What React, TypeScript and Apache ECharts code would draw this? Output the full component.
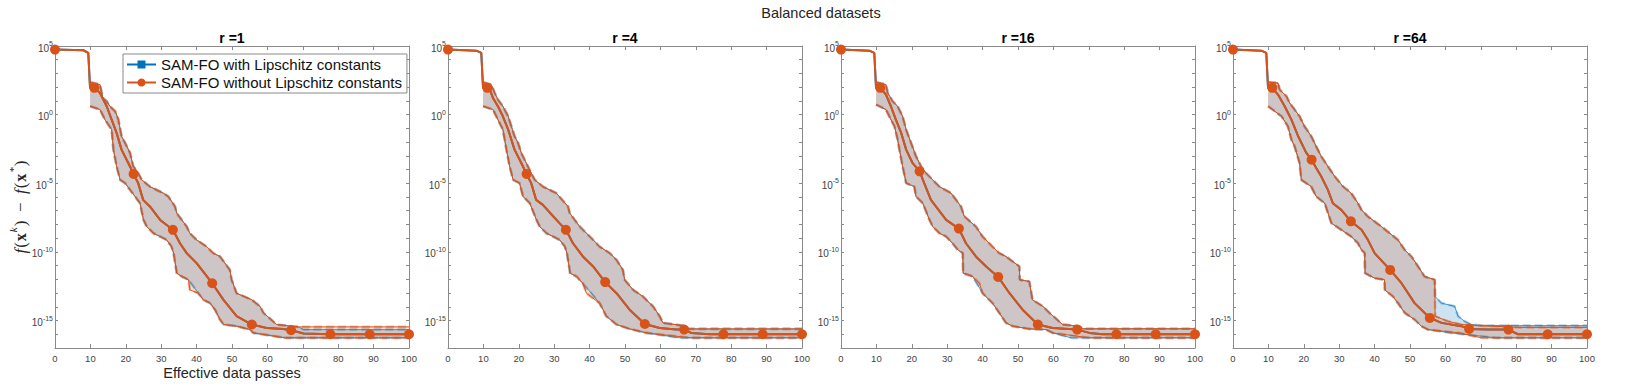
import React, { useEffect, useRef } from "react";
import * as echarts from "echarts";

type Pt = [number, number];

// ---------------- data ----------------
// x = effective data passes, y = log10( f(x^k) - f(x*) )
const mainTitle = "Balanced datasets";
const panelTitles = ["r =1", "r =4", "r =16", "r =64"];
const seriesNames = ["SAM-FO with Lipschitz constants", "SAM-FO without Lipschitz constants"];
const markerPasses = [0, 11.1, 22.2, 33.3, 44.4, 55.6, 66.7, 77.8, 88.9, 100];
const yLabelExponents = [5, 0, -5, -10, -15];
const xLabel = "Effective data passes";

// ---- r = 1 ----
const r1OrangeMedian: Pt[] = [[0, 4.74], [8, 4.69], [9.4, 4.5], [9.9, 1.95], [11.1, 1.95], [12.7, 1.58], [14.6, 0.61], [16, -0.36], [17.4, -1.33], [18.8, -2.55], [20.7, -3.52], [22.2, -4.32], [23.5, -4.99], [24.9, -6.21], [26.8, -6.69], [29.7, -7.67], [33.3, -8.39], [35.3, -9.37], [37.2, -10.09], [40, -10.82], [44.4, -12.28], [47.6, -13.49], [51.3, -14.68], [55.6, -15.29], [59.8, -15.54], [64.5, -15.61], [66.7, -15.71], [70.2, -15.95], [77.8, -16.0], [88.9, -16.0], [100, -16.0]];
const r1OrangeUpper: Pt[] = [[9.9, 2.36], [12.7, 2.19], [13.5, 1.22], [14.6, 0.97], [15.5, 0.61], [17, 0.25], [17.9, -0.36], [18.8, -1.57], [19.8, -2.06], [21.2, -2.79], [22.1, -3.76], [23.5, -4.25], [24.5, -4.75], [26.8, -5.24], [30.6, -5.72], [32, -5.96], [33.9, -6.69], [34.4, -7.18], [37.2, -8.15], [38.1, -8.64], [40, -9.12], [42.8, -9.61], [44.7, -10.09], [46.6, -10.33], [49.4, -11.31], [49.9, -12.03], [51.3, -13.01], [55.6, -13.49], [57.9, -13.96], [58.9, -14.44], [62.6, -15.29], [68.7, -15.46], [100, -15.46]];
const r1OrangeLower: Pt[] = [[9.9, 0.61], [12.7, 0.37], [14.1, -0.36], [16, -1.09], [16.5, -2.55], [17.4, -3.76], [18.4, -4.75], [19.8, -4.99], [21.2, -5.48], [22.6, -5.96], [24, -6.45], [25, -7.67], [25.9, -8.15], [27.8, -8.64], [29.7, -8.88], [31.5, -9.12], [32.9, -9.61], [33.5, -10.09], [34.4, -11.55], [35.8, -11.79], [37.7, -12.03], [38.1, -12.77], [40.5, -13.01], [41.9, -13.49], [43.8, -13.73], [45.2, -14.21], [46.6, -14.93], [47.6, -15.29], [51.3, -15.41], [55.1, -15.66], [56, -15.9], [65, -16.26], [100, -16.26]];
const r1BlueMedian: Pt[] = r1OrangeMedian;
const r1BlueUpper: Pt[] = [[9.9, 2.36], [12.7, 2.19], [13.5, 1.22], [14.6, 0.97], [15.5, 0.61], [17, 0.25], [17.9, -0.36], [18.8, -1.57], [19.8, -2.06], [21.2, -2.79], [22.1, -3.76], [23.5, -4.25], [24.5, -4.75], [26.8, -5.24], [30.6, -5.72], [32, -5.96], [33.9, -6.69], [34.4, -7.18], [37.2, -8.15], [38.1, -8.64], [40, -9.12], [42.8, -9.61], [44.7, -10.09], [46.6, -10.33], [49.4, -11.31], [49.9, -12.03], [51.3, -13.01], [55.6, -13.49], [57.9, -13.96], [58.9, -14.44], [62.6, -15.29], [68.7, -15.46], [70.2, -15.66], [100, -15.66]];
const r1BlueLower: Pt[] = [[9.9, 0.61], [12.7, 0.37], [14.1, -0.36], [16, -1.09], [16.5, -2.55], [17.4, -3.76], [18.4, -4.75], [19.8, -4.99], [21.2, -5.48], [22.6, -5.96], [24, -6.45], [25, -7.67], [25.9, -8.15], [27.8, -8.64], [29.7, -8.88], [31.5, -9.12], [32.9, -9.61], [33.5, -10.09], [34.4, -11.55], [35.8, -11.79], [37.7, -12.03], [40.5, -13.01], [41.9, -13.49], [43.8, -13.73], [45.2, -14.21], [46.6, -14.93], [47.6, -15.29], [51.3, -15.41], [55.1, -15.66], [56, -15.9], [65, -16.26], [100, -16.26]];

// ---- r = 4 ----
const r4OrangeMedian: Pt[] = [[0, 4.74], [8, 4.66], [9.4, 4.5], [9.9, 1.95], [11.1, 1.95], [11.8, 1.83], [12.7, 1.22], [14.1, 0.61], [15.5, -0.12], [17, -1.09], [17.9, -1.82], [18.8, -2.55], [20.7, -3.52], [22.2, -4.32], [23.5, -4.99], [24.9, -6.21], [26.8, -6.57], [29.7, -7.4], [31.5, -7.9], [33.3, -8.39], [35.3, -9.37], [38.1, -10.33], [41, -11.06], [44.4, -12.2], [47.6, -13.01], [51.3, -14.21], [55.6, -15.25], [59.8, -15.54], [64.5, -15.66], [66.7, -15.66], [68.7, -15.9], [73.9, -16.0], [77.8, -16.0], [88.9, -16.0], [100, -16.0]];
const r4OrangeUpper: Pt[] = [[9.9, 2.36], [12.2, 2.19], [13.2, 1.58], [14.1, 1.1], [15.5, 0.61], [17, -0.12], [17.9, -0.85], [18.8, -1.57], [19.8, -2.06], [20.7, -2.79], [22.1, -3.52], [23.5, -4.25], [24.5, -4.75], [26.8, -5.24], [30.6, -5.72], [33.9, -6.69], [34.4, -7.18], [37.2, -8.15], [39.1, -8.64], [41, -9.12], [42.8, -9.61], [45.7, -10.09], [47.6, -10.58], [49.4, -11.31], [49.9, -12.03], [52.3, -12.77], [55.1, -13.25], [56, -13.49], [57.9, -13.96], [59.8, -14.68], [60.7, -15.17], [66.4, -15.37], [67.3, -15.61], [100, -15.61]];
const r4OrangeLower: Pt[] = [[9.9, 0.61], [12.7, 0.37], [14.1, -0.36], [15.5, -1.09], [16, -1.82], [16.5, -2.55], [17.4, -3.76], [18.4, -4.75], [20.2, -4.99], [21.2, -5.96], [23.1, -6.45], [25, -7.67], [25.9, -8.15], [27.8, -8.64], [29.7, -8.88], [31.5, -9.12], [33, -9.61], [33.6, -10.09], [34.5, -11.55], [36.3, -11.79], [38.1, -12.28], [39.1, -13.01], [42.8, -13.73], [43.8, -14.21], [44.7, -14.68], [47.6, -15.29], [51.3, -15.61], [56, -15.9], [68.7, -16.26], [100, -16.26]];
const r4BlueMedian: Pt[] = r4OrangeMedian;
const r4BlueUpper: Pt[] = r4OrangeUpper;
const r4BlueLower: Pt[] = [[9.9, 0.61], [12.7, 0.37], [14.1, -0.36], [15.5, -1.09], [16, -1.82], [16.5, -2.55], [17.4, -3.76], [18.4, -4.75], [20.2, -4.99], [21.2, -5.96], [23.1, -6.45], [25, -7.67], [25.9, -8.15], [27.8, -8.64], [29.7, -8.88], [31.5, -9.12], [33, -9.61], [33.6, -10.09], [34.5, -11.55], [36.3, -11.79], [40.5, -13.01], [42.8, -13.73], [43.8, -14.21], [44.7, -14.68], [47.6, -15.29], [51.3, -15.61], [56, -15.9], [65.4, -16.26], [100, -16.26]];

// ---- r = 16 ----
const r16OrangeMedian: Pt[] = [[0, 4.74], [8, 4.66], [9.4, 4.5], [9.9, 1.95], [11.1, 1.95], [12.7, 1.46], [14.1, 0.61], [15.5, -0.36], [17, -1.33], [18.4, -2.55], [20.2, -3.52], [22.2, -4.13], [23.5, -4.99], [25.4, -6.21], [26.8, -6.69], [29.7, -7.67], [33.3, -8.3], [35.3, -9.37], [38.1, -10.33], [41, -11.06], [44.4, -11.82], [47.6, -13.01], [51.3, -14.21], [55.6, -15.29], [59.8, -15.54], [66.7, -15.66], [70.2, -15.9], [73.9, -16.0], [77.8, -16.0], [88.9, -16.0], [100, -16.0]];
const r16OrangeUpper: Pt[] = [[9.9, 2.36], [12.7, 2.19], [13.2, 1.58], [14.6, 0.97], [16, 0.61], [17.4, -0.12], [18.4, -1.09], [19.8, -2.06], [21.2, -3.03], [22.6, -3.76], [24, -4.25], [25.9, -4.75], [27.8, -5.24], [31.1, -5.72], [33.9, -6.69], [34.8, -7.4], [38.1, -8.15], [40, -8.88], [42.8, -9.61], [44.7, -10.09], [46.6, -10.33], [50.4, -11.06], [50.5, -12.03], [53.2, -12.15], [54.1, -13.49], [57, -13.96], [58.9, -14.44], [62.6, -15.29], [67.3, -15.41], [68.3, -15.6], [100, -15.6]];
const r16OrangeLower: Pt[] = [[9.9, 0.73], [12.7, 0.37], [14.1, -0.36], [15.1, -0.85], [16, -1.82], [16.5, -2.55], [17.4, -3.76], [18.4, -4.99], [20.7, -5.24], [21.2, -5.96], [23.1, -6.45], [25, -7.67], [25.9, -8.15], [27.8, -8.64], [29.7, -8.88], [31.5, -9.37], [33, -9.85], [34.4, -10.09], [34.5, -11.55], [37.2, -11.79], [39.1, -12.28], [40, -13.01], [42.8, -13.73], [44.7, -14.44], [46.6, -15.17], [48.5, -15.41], [53.2, -15.61], [57.9, -15.66], [59.8, -15.9], [70.2, -16.26], [100, -16.26]];
const r16BlueMedian: Pt[] = r16OrangeMedian;
const r16BlueUpper: Pt[] = r16OrangeUpper;
const r16BlueLower: Pt[] = [[9.9, 0.73], [12.7, 0.37], [14.1, -0.36], [15.1, -0.85], [16, -1.82], [16.5, -2.55], [17.4, -3.76], [18.4, -4.99], [20.7, -5.24], [21.2, -5.96], [23.1, -6.45], [25, -7.67], [25.9, -8.15], [27.8, -8.64], [29.7, -8.88], [31.5, -9.37], [33, -9.85], [34.4, -10.09], [34.5, -11.55], [37.2, -11.79], [40, -13.01], [42.8, -13.73], [44.7, -14.44], [46.6, -15.17], [48.5, -15.41], [53.2, -15.61], [57.9, -15.66], [59.8, -15.9], [65, -16.26], [100, -16.26]];

// ---- r = 64 ----
const r64OrangeMedian: Pt[] = [[0, 4.74], [8, 4.66], [9.4, 4.5], [9.9, 1.95], [11.1, 1.95], [12.7, 1.46], [14.6, 0.61], [16.5, -0.36], [18.4, -1.57], [20.7, -2.79], [22.2, -3.28], [23.5, -3.88], [24.9, -4.49], [26.8, -5.48], [28.2, -6.45], [30.6, -6.94], [33.3, -7.77], [36.3, -8.39], [38.1, -9.12], [40, -10.09], [44.4, -11.31], [47.6, -12.28], [51.3, -13.73], [55.6, -14.81], [58.9, -15.17], [64.5, -15.41], [66.7, -15.61], [72, -15.66], [77.8, -15.66], [80.5, -16.0], [88.9, -16.0], [100, -16.0]];
const r64OrangeUpper: Pt[] = [[9.9, 2.36], [12.7, 2.31], [13.2, 1.82], [15.1, 1.34], [16, 0.85], [17.4, 0.37], [18.8, -0.12], [20.2, -0.85], [22.1, -1.57], [23.5, -2.31], [24.9, -3.03], [26.8, -3.76], [28.7, -4.49], [31.1, -5.24], [33.4, -5.72], [35.3, -6.45], [36.3, -6.94], [38.1, -7.42], [41.9, -8.15], [46.6, -9.12], [48.5, -9.85], [50.4, -10.33], [52.3, -11.06], [54.1, -11.79], [57, -12.03], [57.1, -14.68], [60.7, -15.05], [64.5, -15.29], [70.2, -15.37], [80.5, -15.5], [100, -15.5]];
const r64OrangeLower: Pt[] = [[9.9, 0.61], [13.7, -0.12], [15.5, -0.85], [16.5, -1.82], [17.4, -2.31], [18.8, -3.52], [19.3, -4.75], [22.1, -5.24], [23.5, -5.96], [25.9, -6.45], [27.8, -7.91], [30.6, -8.39], [33.4, -8.88], [35.3, -9.37], [36.3, -9.85], [37.2, -10.09], [37.3, -11.55], [40, -11.91], [42.8, -12.03], [42.9, -12.77], [45.2, -13.25], [46.6, -13.73], [48.5, -14.44], [51.3, -14.93], [53.2, -15.41], [55.1, -15.66], [64, -15.9], [70.2, -16.26], [100, -16.26]];
const r64BlueMedian: Pt[] = r64OrangeMedian;
const r64BlueUpper: Pt[] = [[9.9, 2.36], [12.7, 2.31], [13.2, 1.82], [15.1, 1.34], [16, 0.85], [17.4, 0.37], [18.8, -0.12], [20.2, -0.85], [22.1, -1.57], [23.5, -2.31], [24.9, -3.03], [26.8, -3.76], [28.7, -4.49], [31.1, -5.24], [33.4, -5.72], [35.3, -6.45], [36.3, -6.94], [38.1, -7.42], [41.9, -8.15], [46.6, -9.12], [48.5, -9.85], [50.4, -10.33], [52.3, -11.06], [54.1, -11.79], [57, -12.03], [57.1, -13.25], [58.9, -13.73], [62.6, -13.96], [63.6, -14.68], [65.4, -15.05], [67.3, -15.29], [70.2, -15.37], [100, -15.37]];
const r64BlueLower: Pt[] = [[9.9, 0.61], [13.7, -0.12], [15.5, -0.85], [16.5, -1.82], [17.4, -2.31], [18.8, -3.52], [19.3, -4.75], [22.1, -5.24], [23.5, -5.96], [25.9, -6.45], [27.8, -7.91], [30.6, -8.39], [33.4, -8.88], [35.3, -9.37], [36.3, -9.85], [37.2, -10.09], [37.3, -11.55], [40, -11.91], [42.8, -12.03], [42.9, -12.77], [45.2, -13.25], [46.6, -13.73], [48.5, -14.44], [51.3, -14.93], [53.2, -15.41], [55.1, -15.66], [61.5, -15.9], [74.5, -16.26], [100, -16.26]];

// ---------------- styling / layout ----------------
const BLUE = "#0072BD";
const ORANGE = "#D95319";
const AXIS = "#8a8a8a";
const FONT = '"Liberation Sans", Arial, Helvetica, sans-serif';
const SERIF = '"Liberation Serif", "DejaVu Serif", serif';
const GRID_LEFT = [55, 448, 841, 1233];
const GRID_W = 354;
const GRID_TOP = 46;
const GRID_H = 302;

const panels = [
  { oMed: r1OrangeMedian, oUp: r1OrangeUpper, oLo: r1OrangeLower, bMed: r1BlueMedian, bUp: r1BlueUpper, bLo: r1BlueLower },
  { oMed: r4OrangeMedian, oUp: r4OrangeUpper, oLo: r4OrangeLower, bMed: r4BlueMedian, bUp: r4BlueUpper, bLo: r4BlueLower },
  { oMed: r16OrangeMedian, oUp: r16OrangeUpper, oLo: r16OrangeLower, bMed: r16BlueMedian, bUp: r16BlueUpper, bLo: r16BlueLower },
  { oMed: r64OrangeMedian, oUp: r64OrangeUpper, oLo: r64OrangeLower, bMed: r64BlueMedian, bUp: r64BlueUpper, bLo: r64BlueLower },
];

// marker sits on the median point recorded at that pass
function markerPoints(med: Pt[]): Pt[] {
  return markerPasses
    .map((x) => med.find((p) => Math.abs(p[0] - x) < 1e-6))
    .filter((p): p is Pt => !!p);
}

function bandSeries(i: number, up: Pt[], lo: Pt[], fill: string, z: number) {
  return {
    type: "custom",
    xAxisIndex: 2 * i,
    yAxisIndex: 2 * i,
    silent: true,
    z,
    data: [[up[0][0], up[0][1]]],
    renderItem: (_params: any, api: any) => {
      const ring = up.concat(lo.slice().reverse());
      const points = ring.map((p) => api.coord(p));
      return { type: "polygon", shape: { points }, style: { fill } };
    },
  };
}

// a bound is drawn as a light dashed halo plus a thin solid core line
function edgeSeries(i: number, pts: Pt[], color: string, haloOpacity: number, coreOpacity: number, coreWidth: number, z: number): any[] {
  const base = {
    type: "line",
    xAxisIndex: 2 * i,
    yAxisIndex: 2 * i,
    data: pts,
    symbol: "none",
    showSymbol: false,
    silent: true,
    z,
  };
  return [
    { ...base, lineStyle: { color, width: 2.6, type: [8, 4], opacity: haloOpacity } },
    { ...base, lineStyle: { color, width: coreWidth, type: "solid", opacity: coreOpacity } },
  ];
}

function medianSeries(i: number, pts: Pt[], color: string, name: string, symbol: string, z: number) {
  return {
    type: "line",
    name,
    xAxisIndex: 2 * i,
    yAxisIndex: 2 * i,
    data: pts,
    symbol,
    symbolSize: 8,
    showSymbol: false,
    silent: true,
    z,
    lineStyle: { color, width: 2 },
    itemStyle: { color },
  };
}

function markerSeries(i: number, med: Pt[]) {
  return {
    type: "scatter",
    xAxisIndex: 2 * i,
    yAxisIndex: 2 * i,
    data: markerPoints(med),
    symbol: "circle",
    symbolSize: 10,
    silent: true,
    z: 8,
    itemStyle: { color: ORANGE, opacity: 1 },
  };
}

function buildOption() {
  const xAxis: any[] = [];
  const yAxis: any[] = [];
  const series: any[] = [];
  panels.forEach((p, i) => {
    const xBase = {
      type: "value",
      gridIndex: i,
      min: 0,
      max: 100,
      interval: 10,
      splitLine: { show: false },
      axisLine: { show: true, onZero: false, lineStyle: { color: AXIS, width: 1 } },
      axisTick: { show: true, inside: true, length: 4, lineStyle: { color: AXIS } },
    };
    xAxis.push({ ...xBase, position: "bottom", axisLabel: { show: true, fontSize: 9.5, color: "#444", margin: 5, fontFamily: FONT } });
    xAxis.push({ ...xBase, position: "top", axisLabel: { show: false } });
    const yBase = {
      type: "value",
      gridIndex: i,
      min: -17,
      max: 5,
      interval: 1,
      splitLine: { show: false },
      axisLine: { show: true, onZero: false, lineStyle: { color: AXIS, width: 1 } },
      axisTick: { show: true, inside: true, length: 3, lineStyle: { color: AXIS } },
    };
    yAxis.push({
      ...yBase,
      position: "left",
      axisLabel: {
        show: true,
        margin: 2,
        color: "#444",
        fontFamily: FONT,
        formatter: (v: number) => {
          const r = Math.round(v);
          return Math.abs(v - r) < 1e-6 && yLabelExponents.includes(r) ? `{b|10}{s|${r}}` : "";
        },
        rich: {
          b: { fontSize: 10, fontFamily: FONT, color: "#444", padding: [4, 0, 0, 0] },
          s: { fontSize: 7, fontFamily: FONT, color: "#444", verticalAlign: "top", padding: [1, 0, 0, 0] },
        },
      },
    });
    yAxis.push({ ...yBase, position: "right", axisLabel: { show: false } });

    // blue first, then orange on top (as in the original plot order)
    series.push(bandSeries(i, p.bUp, p.bLo, "rgba(0,114,189,0.2)", 1));
    series.push(...edgeSeries(i, p.bUp, BLUE, 0.3, 0.9, 0.8, 2));
    series.push(...edgeSeries(i, p.bLo, BLUE, 0.3, 0.9, 0.8, 2));
    series.push(medianSeries(i, p.bMed, BLUE, seriesNames[0], "rect", 3));
    series.push(bandSeries(i, p.oUp, p.oLo, "rgba(217,83,25,0.2)", 4));
    series.push(...edgeSeries(i, p.oUp, ORANGE, 0.4, 1, 1, 5));
    series.push(...edgeSeries(i, p.oLo, ORANGE, 0.4, 1, 1, 5));
    series.push(medianSeries(i, p.oMed, ORANGE, seriesNames[1], "circle", 6));
    series.push(markerSeries(i, p.oMed));
  });

  const graphic: any[] = [
    {
      type: "text",
      x: 821,
      y: 13,
      style: { text: mainTitle, fontSize: 14.5, fontFamily: FONT, fill: "#262626", align: "center", verticalAlign: "middle", textAlign: "center", textVerticalAlign: "middle" },
    },
    ...panelTitles.map((t, i) => ({
      type: "text",
      x: GRID_LEFT[i] + GRID_W / 2,
      y: 37.5,
      style: { text: t, fontSize: 14, fontWeight: "bold", fontFamily: FONT, fill: "#000", align: "center", verticalAlign: "middle", textAlign: "center", textVerticalAlign: "middle" },
    })),
    {
      type: "text",
      x: GRID_LEFT[0] + GRID_W / 2,
      y: 373,
      style: { text: xLabel, fontSize: 14.5, fontFamily: FONT, fill: "#262626", align: "center", verticalAlign: "middle", textAlign: "center", textVerticalAlign: "middle" },
    },
    {
      type: "text",
      x: 18,
      y: 207,
      rotation: Math.PI / 2,
      style: {
        text: "{f|f}{n|(}{x|x}{s|k}{n|)  −  }{f|f}{n|(}{x|x}{s|*}{n|)}",
        align: "center",
        verticalAlign: "middle",
        textAlign: "center",
        textVerticalAlign: "middle",
        fill: "#262626",
        rich: {
          f: { fontFamily: SERIF, fontStyle: "italic", fontSize: 17, fill: "#262626", padding: [4, 1, 0, 0] },
          n: { fontFamily: SERIF, fontSize: 17, fill: "#262626", padding: [4, 0, 0, 0] },
          x: { fontFamily: SERIF, fontWeight: "bold", fontSize: 16, fill: "#262626", padding: [4, 0, 0, 1] },
          s: { fontFamily: SERIF, fontStyle: "italic", fontSize: 11, fill: "#262626", verticalAlign: "top", padding: [0, 1, 0, 1] },
        },
      },
    },
  ];

  return {
    animation: false,
    textStyle: { fontFamily: FONT },
    grid: panels.map((_, i) => ({ left: GRID_LEFT[i], top: GRID_TOP, width: GRID_W, height: GRID_H, containLabel: false })),
    xAxis,
    yAxis,
    legend: {
      show: true,
      data: seriesNames,
      orient: "vertical",
      left: 123,
      top: 54,
      padding: [3, 5, 3, 3],
      itemGap: 3,
      itemWidth: 29,
      itemHeight: 10,
      borderColor: AXIS,
      borderWidth: 1,
      borderRadius: 0,
      backgroundColor: "#ffffff",
      selectedMode: false,
      z: 10,
      textStyle: { fontSize: 15, color: "#111", fontFamily: FONT },
    },
    graphic,
    series,
  };
}

export default function App() {
  const ref = useRef<HTMLDivElement>(null);
  useEffect(() => {
    if (!ref.current) return;
    const chart = echarts.init(ref.current, undefined, { renderer: "svg" });
    chart.setOption(buildOption() as any);
    return () => chart.dispose();
  }, []);
  return (
    <div
      ref={ref}
      style={{ position: "absolute", left: 0, top: 0, width: 1644, height: 386, background: "#ffffff" }}
    />
  );
}
